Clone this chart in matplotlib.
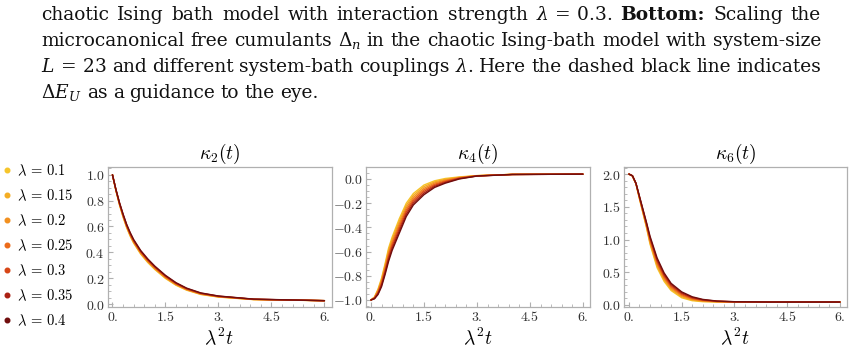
import numpy as np
import matplotlib
matplotlib.use('Agg')
import matplotlib.pyplot as plt
from matplotlib.lines import Line2D
from matplotlib.ticker import MultipleLocator

plt.rcParams['mathtext.fontset'] = 'cm'

# couplings and colours (yellow -> dark red)
lambdas = ['0.1', '0.15', '0.2', '0.25', '0.3', '0.35', '0.4']
colors = ['#f6c52a', '#f4ad24', '#f2901f', '#ec6b1a', '#d74616', '#ab2114', '#700d0d']

# time grid (lambda^2 t)
t = [0, 0.1, 0.2, 0.3, 0.4, 0.5, 0.6, 0.8, 1.0, 1.2, 1.5, 1.8, 2.1, 2.5, 3.0, 4.0, 6.0]

# kappa_2(t), one row per lambda
k2 = [
    [1.0, 0.875, 0.766, 0.673, 0.592, 0.526, 0.471, 0.386, 0.321, 0.267, 0.198, 0.145, 0.107, 0.074, 0.054, 0.034, 0.026],
    [1.0, 0.877, 0.769, 0.677, 0.596, 0.531, 0.476, 0.391, 0.326, 0.271, 0.202, 0.148, 0.110, 0.076, 0.055, 0.035, 0.026],
    [1.0, 0.878, 0.772, 0.681, 0.601, 0.535, 0.480, 0.395, 0.330, 0.276, 0.206, 0.152, 0.112, 0.078, 0.057, 0.035, 0.026],
    [1.0, 0.880, 0.775, 0.685, 0.605, 0.540, 0.485, 0.400, 0.335, 0.280, 0.210, 0.155, 0.115, 0.080, 0.058, 0.036, 0.026],
    [1.0, 0.882, 0.778, 0.689, 0.609, 0.545, 0.490, 0.405, 0.340, 0.284, 0.214, 0.158, 0.118, 0.082, 0.059, 0.037, 0.026],
    [1.0, 0.883, 0.781, 0.693, 0.614, 0.549, 0.494, 0.409, 0.344, 0.289, 0.218, 0.162, 0.120, 0.084, 0.061, 0.037, 0.026],
    [1.0, 0.885, 0.784, 0.697, 0.618, 0.554, 0.499, 0.414, 0.349, 0.293, 0.222, 0.165, 0.123, 0.086, 0.062, 0.038, 0.026],
]

# kappa_4(t)
k4 = [
    [-1.0, -0.975, -0.910, -0.820, -0.700, -0.570, -0.480, -0.330, -0.200, -0.120, -0.050, -0.015, 0.004, 0.017, 0.028, 0.038, 0.040],
    [-1.0, -0.978, -0.918, -0.832, -0.715, -0.588, -0.498, -0.350, -0.218, -0.136, -0.063, -0.024, -0.003, 0.014, 0.027, 0.038, 0.040],
    [-1.0, -0.980, -0.925, -0.843, -0.730, -0.607, -0.517, -0.370, -0.237, -0.152, -0.077, -0.033, -0.009, 0.011, 0.027, 0.038, 0.040],
    [-1.0, -0.983, -0.933, -0.855, -0.745, -0.625, -0.535, -0.390, -0.255, -0.168, -0.090, -0.043, -0.016, 0.009, 0.026, 0.038, 0.040],
    [-1.0, -0.985, -0.940, -0.867, -0.760, -0.643, -0.553, -0.410, -0.273, -0.183, -0.103, -0.052, -0.022, 0.006, 0.025, 0.037, 0.040],
    [-1.0, -0.988, -0.948, -0.878, -0.775, -0.662, -0.572, -0.430, -0.292, -0.199, -0.117, -0.061, -0.029, 0.003, 0.025, 0.037, 0.040],
    [-1.0, -0.990, -0.955, -0.890, -0.790, -0.680, -0.590, -0.450, -0.310, -0.215, -0.130, -0.070, -0.035, 0.000, 0.024, 0.037, 0.040],
]

# kappa_6(t)
k6 = [
    [2.0, 1.970, 1.850, 1.620, 1.400, 1.180, 0.930, 0.570, 0.360, 0.220, 0.110, 0.065, 0.050, 0.045, 0.045, 0.045, 0.045],
    [2.0, 1.971, 1.852, 1.627, 1.410, 1.193, 0.950, 0.595, 0.382, 0.238, 0.125, 0.075, 0.056, 0.048, 0.046, 0.045, 0.045],
    [2.0, 1.972, 1.853, 1.633, 1.420, 1.207, 0.970, 0.620, 0.403, 0.257, 0.140, 0.085, 0.062, 0.050, 0.047, 0.045, 0.045],
    [2.0, 1.973, 1.855, 1.640, 1.430, 1.220, 0.990, 0.645, 0.425, 0.275, 0.155, 0.095, 0.068, 0.053, 0.048, 0.045, 0.045],
    [2.0, 1.973, 1.857, 1.647, 1.440, 1.233, 1.010, 0.670, 0.447, 0.293, 0.170, 0.105, 0.073, 0.055, 0.048, 0.045, 0.045],
    [2.0, 1.974, 1.858, 1.653, 1.450, 1.247, 1.030, 0.695, 0.468, 0.312, 0.185, 0.115, 0.079, 0.058, 0.049, 0.045, 0.045],
    [2.0, 1.975, 1.860, 1.660, 1.460, 1.260, 1.050, 0.720, 0.490, 0.330, 0.200, 0.125, 0.085, 0.060, 0.050, 0.045, 0.045],
]

xticks = [0, 1.5, 3, 4.5, 6]
xticklabels = ['$0.$', '$1.5$', '$3.$', '$4.5$', '$6.$']
panels = [
    ('$\\kappa_2(t)$', k2, [0, 0.2, 0.4, 0.6, 0.8, 1.0], ['$0.0$', '$0.2$', '$0.4$', '$0.6$', '$0.8$', '$1.0$'], (-0.023, 1.06), 0.05),
    ('$\\kappa_4(t)$', k4, [-1.0, -0.8, -0.6, -0.4, -0.2, 0.0], ['$-1.0$', '$-0.8$', '$-0.6$', '$-0.4$', '$-0.2$', '$0.0$'], (-1.058, 0.099), 0.05),
    ('$\\kappa_6(t)$', k6, [0, 0.5, 1.0, 1.5, 2.0], ['$0.0$', '$0.5$', '$1.0$', '$1.5$', '$2.0$'], (-0.031, 2.108), 0.1),
]

W, H = 856, 354
fig = plt.figure(figsize=(W / 100, H / 100), dpi=100)

boxes = [(107.5, 331.5), (366, 590), (624, 847)]
frame = '#b0b0b0'
for (title, vals, yt, ytl, ylim, yminor), (x0, x1) in zip(panels, boxes):
    ax = fig.add_axes([x0 / W, (H - 307) / H, (x1 - x0) / W, 140 / H])
    for row, c in zip(vals, colors):
        ax.plot(t, row, color=c, lw=1.0, solid_capstyle='round')
    ax.set_xlim(-0.14, 6.2)
    ax.set_ylim(*ylim)
    ax.set_xticks(xticks, xticklabels)
    ax.set_yticks(yt, ytl)
    ax.xaxis.set_minor_locator(MultipleLocator(0.3))
    ax.yaxis.set_minor_locator(MultipleLocator(yminor))
    ax.tick_params(which='both', direction='in', color=frame, labelsize=10,
                   labelcolor='#333333', top=False, right=False, pad=2)
    ax.tick_params(which='major', length=3.5, width=0.8)
    ax.tick_params(which='minor', length=2, width=0.6)
    for s in ax.spines.values():
        s.set_color(frame)
        s.set_linewidth(0.9)
    ax.set_title(title, fontsize=14, pad=6)
    ax.set_xlabel('$\\lambda^2 t$', fontsize=14, labelpad=2)

handles = [Line2D([], [], ls='', marker='o', ms=3.3, color=c) for c in colors]
fig.legend(handles, ['$\\lambda\\,=\\,%s$' % l for l in lambdas], loc='upper left',
           bbox_to_anchor=(0.0, (H - 160) / H), frameon=False, fontsize=10.5,
           handlelength=0.6, handletextpad=0.35, labelspacing=0.66,
           borderaxespad=0, borderpad=0.2)

# caption text above the plots, justified word by word
caption = [
    (['chaotic', 'Ising', 'bath', 'model', 'with', 'interaction', 'strength', '$\\lambda\\,=\\,0.3$.',
      ('Bottom:', 'bold'), 'Scaling', 'the'], True),
    (['microcanonical', 'free', 'cumulants', '$\\Delta_n$', 'in', 'the', 'chaotic', 'Ising-bath',
      'model', 'with', 'system-size'], True),
    (['$L\\,=\\,23$', 'and', 'different', 'system-bath', 'couplings', '$\\lambda$.', 'Here', 'the',
      'dashed', 'black', 'line', 'indicates'], True),
    (['$\\Delta E_U$', 'as', 'a', 'guidance', 'to', 'the', 'eye.'], False),
]
baselines = [20, 46, 72, 98]
cx0, cx1 = 41, 821
renderer = fig.canvas.get_renderer()
for (words, just), yb in zip(caption, baselines):
    items = []
    for w in words:
        weight = 'normal'
        if isinstance(w, tuple):
            w, weight = w
        tx = fig.text(0, (H - yb) / H, w, family='DejaVu Serif', fontsize=13.4,
                      weight=weight, math_fontfamily='dejavuserif', va='baseline',
                      color='#111111')
        items.append(tx)
    widths = [tx.get_window_extent(renderer).width for tx in items]
    if just:
        gap = (cx1 - cx0 - sum(widths)) / (len(items) - 1)
    else:
        gap = 5.5
    x = cx0
    for tx, w in zip(items, widths):
        tx.set_x(x / W)
        x += w + gap

fig.savefig('out.png', dpi=100)
